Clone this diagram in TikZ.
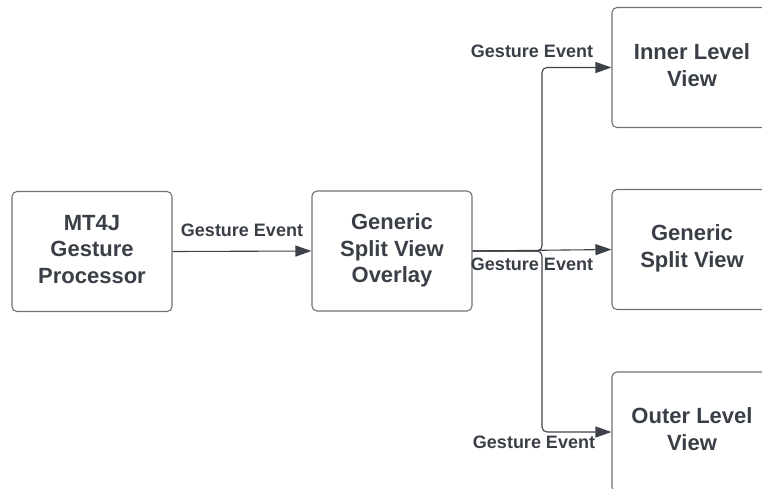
\documentclass[tikz,border=0pt]{standalone}
\usepackage{fontspec}
\setmainfont{Liberation Sans}
\usetikzlibrary{arrows.meta}
\definecolor{ink}{HTML}{3A3F47}
\definecolor{wire}{HTML}{3D424A}
\definecolor{frame}{HTML}{6E7176}
\begin{document}
\begin{tikzpicture}[x=1pt,y=-1pt,
  block/.style={draw=frame, line width=1.1pt, rounded corners=5pt,
    minimum width=160pt, minimum height=120pt, inner sep=0pt},
  caption/.style={align=center, text=ink, inner sep=0pt,
    font=\fontsize{22}{26.5}\selectfont\bfseries},
  evt/.style={text=ink, font=\fontsize{18}{20}\selectfont\bfseries, inner sep=0pt},
  flow/.style={draw=wire, line width=1.1pt, rounded corners=5pt,
    -{Triangle[length=16pt,width=11pt]}}]
\useasboundingbox (0,0) rectangle (762,488);
\clip (0,0) rectangle (762,488);

% processing chain
\node[block] (proc) at (92,251.5) {};
\node[caption] (proc-text) at (92,249.5) {MT4J\\Gesture\\Processor};
\node[block] (overlay) at (392,251) {};
\node[caption] (overlay-text) at (392,250.5) {Generic\\Split View\\Overlay};

% target views
\node[block] (inner) at (692,67.5) {};
\node[caption] (inner-text) at (692,65) {Inner Level\\View};
\node[block] (split) at (692,249.5) {};
\node[caption] (split-text) at (692,248.5) {Generic\\Split View};
\node[block] (outer) at (692,432) {};
\node[caption] (outer-text) at (692,429) {Outer Level\\View};

% event flow
\draw[flow] (proc.east) -- (overlay.west);
\draw[flow] (overlay.east) -- (split.west);
\draw[flow] (overlay.east) -- (542,251) |- (inner.west);
\draw[flow] (overlay.east) -- (542,251) |- (outer.west);

% event labels
\node[evt] (e1) at (242,230) {Gesture Event};
\node[evt] (e2) at (532,51) {Gesture Event};
\node[evt] (e3) at (532,264) {Gesture Event};
\node[evt] (e4) at (534,442) {Gesture Event};
\end{tikzpicture}
\end{document}
